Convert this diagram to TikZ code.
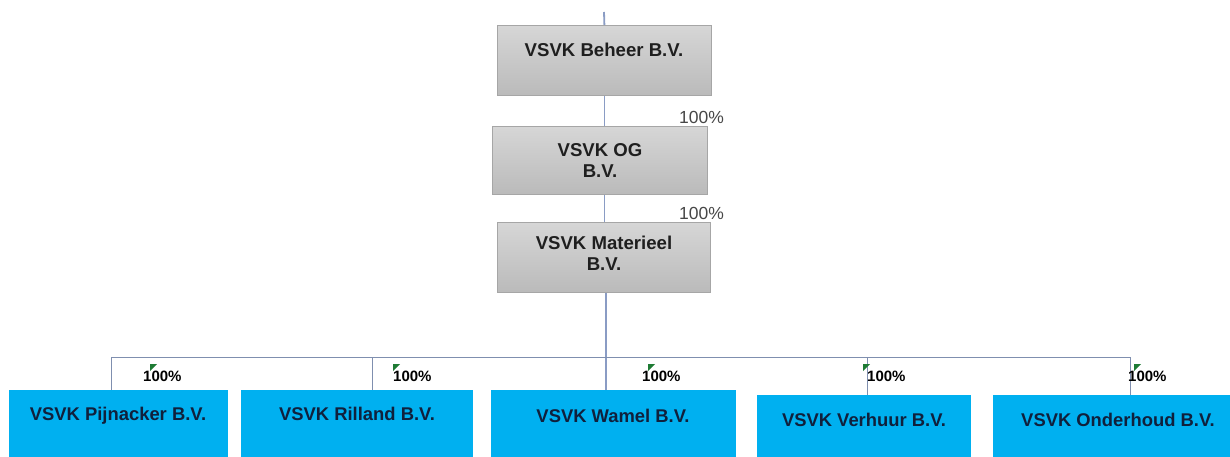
\documentclass[tikz,border=0pt]{standalone}
\usepackage{fontspec}
\setmainfont{Liberation Sans}
\definecolor{boxblue}{HTML}{00B0F0}
\definecolor{navytext}{HTML}{10203C}
\definecolor{spine}{HTML}{8A9CC4}
\definecolor{busline}{HTML}{7F8FAF}
\definecolor{flaggreen}{HTML}{1E7B34}
\definecolor{grayborder}{HTML}{A6A6A6}
\begin{document}
\begin{tikzpicture}[x=1pt,y=-1pt,
  graybox/.style={draw=grayborder, line width=0.8pt, top color=black!16, bottom color=black!27, inner sep=0pt, anchor=north west},
  bluebox/.style={fill=boxblue, inner sep=0pt, anchor=north west},
  gtext/.style={font=\fontsize{18.6}{21}\selectfont\bfseries, text=black!88, align=center, inner sep=0pt},
  btext/.style={font=\fontsize{18.4}{21}\selectfont\bfseries, text=navytext, inner sep=0pt, anchor=base},
  pct/.style={font=\fontsize{17.5}{20}\selectfont, text=black!72, inner sep=0pt, anchor=base west},
  bpct/.style={font=\fontsize{15}{18}\selectfont\bfseries, text=black, inner sep=0pt, anchor=base west},
  mainline/.style={draw=spine, line width=1.8pt},
  subline/.style={draw=busline, line width=1pt},
  flag/.style={fill=flaggreen}
]
\fill[white] (0,0) rectangle (1230,457);
\useasboundingbox (0,0) rectangle (1230,457);

% gray boxes
\node[graybox, minimum width=214pt, minimum height=70pt] (beheer) at (497,25) {};
\node[graybox, minimum width=215pt, minimum height=68pt] (og) at (492,126) {};
\node[graybox, minimum width=213pt, minimum height=70pt] (mat) at (497,222) {};

\node[gtext, anchor=base] (tbeheer) at (604,57) {VSVK Beheer B.V.};
\node[gtext] (tog) at (600,161) {VSVK OG\\B.V.};
\node[gtext] (tmat) at (604,253) {VSVK Materieel\\B.V.};

% blue boxes
\node[bluebox, minimum width=219pt, minimum height=70pt] (pij) at (9,390) {};
\node[bluebox, minimum width=232pt, minimum height=70pt] (ril) at (241,390) {};
\node[bluebox, minimum width=245pt, minimum height=70pt] (wam) at (491,390) {};
\node[bluebox, minimum width=214pt, minimum height=65pt] (ver) at (757,395) {};
\node[bluebox, minimum width=240pt, minimum height=65pt] (ond) at (993,395) {};

\node[btext] (tpij) at (118,420) {VSVK Pijnacker B.V.};
\node[btext] (tril) at (357,420) {VSVK Rilland B.V.};
\node[btext] (twam) at (613,422) {VSVK Wamel B.V.};
\node[btext] (tver) at (864,426) {VSVK Verhuur B.V.};
\node[btext] (tond) at (1118,426) {VSVK Onderhoud B.V.};

% connectors
\coordinate (topend) at (604,12);
\draw[mainline] (topend) -- (beheer.north);
\draw[mainline] (beheer.south) -- (beheer.south |- og.north);
\draw[mainline] (beheer.south |- og.south) -- (beheer.south |- mat.north);
\draw[mainline] ([xshift=2pt]mat.south) -- ([xshift=2pt]mat.south |- wam.north);
\coordinate (bus) at ([xshift=2pt]mat.south |- 0,357);
\draw[subline] (bus) -| ([xshift=-7.5pt]pij.north);
\draw[subline] (bus) -| ([xshift=15pt]ril.north);
\draw[subline] (bus) -| ([xshift=3pt]ver.north);
\draw[subline] (bus) -| ([xshift=17.5pt]ond.north);

% percentages
\node[pct] (p1) at (679,124) {100\%};
\node[pct] (p2) at (679,219) {100\%};
\node[bpct] (q1) at (143,381) {100\%};
\node[bpct] (q2) at (393,381) {100\%};
\node[bpct] (q3) at (642,381) {100\%};
\node[bpct] (q4) at (867,381) {100\%};
\node[bpct] (q5) at (1128,381) {100\%};

% small green flags
\foreach \fx in {150,393,648,863,1134}{
  \fill[flag] (\fx,364) -- ++(7,0) -- ++(-7,7) -- cycle;
}
\end{tikzpicture}
\end{document}
